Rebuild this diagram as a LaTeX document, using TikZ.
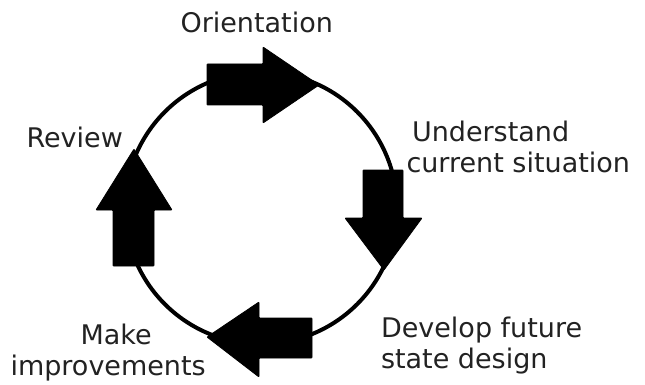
\documentclass[tikz,border=0pt]{standalone}
\usepackage{fontspec}
\setmainfont{DejaVu Sans}
\begin{document}
\begin{tikzpicture}[x=1pt,y=-1pt,
  lbl/.style={inner sep=0pt, outer sep=0pt, text=txtgray, anchor=base west, font=\fontsize{27}{31}\selectfont},
  ring/.style={circle, draw=black, line width=4pt, minimum size=272pt, inner sep=0pt},
  bigarrow/.style={fill=black, draw=black, line width=0.8pt, rounded corners=0.8pt}]
\definecolor{txtgray}{HTML}{222222}
\useasboundingbox (0,0) rectangle (645,385);
\node[ring] (cycle) at (261,208) {};
% top arrow (right)
\path[bigarrow] (207,64) -- (263,64) -- (263,47) -- (319,85) -- (263,123) -- (263,105) -- (207,105) -- cycle;
% right arrow (down)
\path[bigarrow] (363,170) -- (403,170) -- (403,218) -- (422,218) -- (384,270) -- (345,218) -- (363,218) -- cycle;
% bottom arrow (left)
\path[bigarrow] (312,318) -- (259,318) -- (259,302) -- (207,337) -- (259,377) -- (259,358) -- (312,358) -- cycle;
% left arrow (up)
\path[bigarrow] (113,266) -- (113,210) -- (96,210) -- (134,149) -- (172,210) -- (154,210) -- (154,266) -- cycle;
% labels
\node[lbl] (orient) at (180.5,33) {Orientation};
\node[lbl] (review) at (26.5,147) {Review};
\node[lbl] (underst1) at (412,142) {Understand};
\node[lbl] (underst2) at (406.5,172) {current situation};
\node[lbl] (develop1) at (381,337) {Develop future};
\node[lbl] (develop2) at (381,368) {state design};
\node[lbl] (make1) at (80.5,344) {Make};
\node[lbl] (make2) at (10.5,375) {improvements};
\end{tikzpicture}
\end{document}
